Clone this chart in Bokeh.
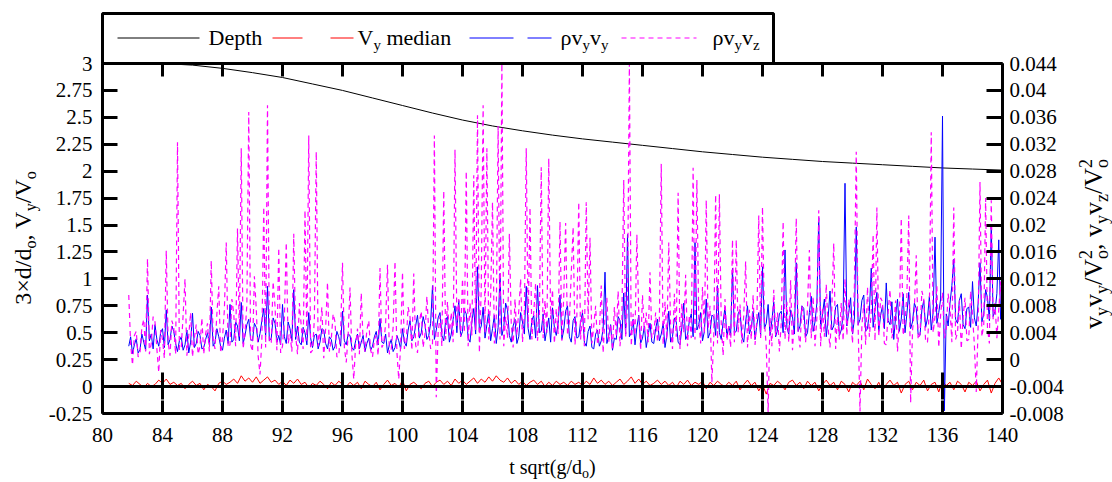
import numpy as np
from math import pi
from bokeh.plotting import figure
from bokeh.models import Range1d, LinearAxis, FixedTicker, CustomJSTickFormatter, Label
from bokeh.embed import file_html
from bokeh.resources import INLINE

# ---------------- data ----------------
x_ticks = [80, 84, 88, 92, 96, 100, 104, 108, 112, 116, 120, 124, 128, 132, 136, 140]
left_ticks = [-0.25, 0, 0.25, 0.5, 0.75, 1, 1.25, 1.5, 1.75, 2, 2.25, 2.5, 2.75, 3]
right_ticks = [-0.008, -0.004, 0, 0.004, 0.008, 0.012, 0.016, 0.02, 0.024,
               0.028, 0.032, 0.036, 0.04, 0.044]

t_start = 81.75
red_step = 0.25      # sampling of the V_y median series
rho_step = 0.125     # sampling of the two rho series

# depth (3 x d/d_o), left axis
depth_t = [82, 84, 86, 88, 90, 92, 94, 96, 98, 100, 102, 104, 106, 108, 110,
           112, 114, 116, 118, 120, 122, 124, 126, 128, 130, 132, 134, 136, 138, 140]
depth = [3.04, 3.01, 2.985, 2.955, 2.915, 2.87, 2.81, 2.75, 2.68, 2.61, 2.54, 2.475,
         2.42, 2.375, 2.335, 2.30, 2.27, 2.24, 2.21, 2.18, 2.155, 2.13, 2.11, 2.09,
         2.075, 2.06, 2.045, 2.03, 2.02, 2.01]

# V_y median (left axis), every 0.25 from t = 81.75
vy_median = [
    0.03, 0.01, 0.05, 0.02, -0.01, 0.03, 0.00, 0.02, 0.06, 0.03, 0.07, 0.02, 0.04, 0.01, 0.03, -0.02, 0.02, 0.05, 0.01, 0.03,
    -0.03, 0.02, 0.00, -0.04, 0.03, 0.05, 0.02, 0.04, 0.07, 0.03, 0.10, 0.05, 0.08, 0.04, 0.09, 0.03, 0.06, 0.09, 0.04, 0.06,
    0.02, 0.05, 0.01, 0.06, 0.03, 0.07, 0.02, 0.04, -0.01, 0.03, 0.01, 0.05, 0.02, -0.02, 0.04, 0.01, 0.05, 0.02, 0.00, 0.04,
    0.01, 0.04, -0.02, 0.05, 0.02, 0.00, 0.04, -0.03, 0.02, 0.06, 0.01, 0.03, -0.01, 0.06, -0.04, 0.02, 0.04, 0.01, -0.02, 0.03,
    0.05, 0.00, 0.04, 0.06, 0.02, 0.05, 0.01, 0.07, 0.03, 0.06, 0.02, 0.05, 0.08, 0.03, 0.07, 0.04, 0.09, 0.05, 0.10, 0.06,
    0.04, 0.08, 0.03, 0.06, 0.02, 0.05, 0.01, 0.04, 0.06, 0.02, 0.05, 0.00, 0.04, 0.01, 0.05, 0.02, 0.04, 0.01, 0.05, 0.02,
    0.04, 0.01, 0.05, 0.02, 0.08, 0.03, 0.06, 0.02, 0.05, 0.01, 0.04, 0.07, 0.02, 0.05, 0.09, 0.03, 0.07, 0.02, 0.05, 0.01,
    0.03, 0.06, 0.02, 0.05, 0.01, 0.04, -0.01, 0.05, 0.02, 0.06, 0.01, 0.04, 0.02, 0.05, -0.02, 0.04, 0.01, 0.05, 0.02, 0.00,
    0.04, 0.01, 0.05, -0.03, 0.02, 0.06, 0.01, 0.04, -0.04, 0.02, -0.07, 0.03, 0.01, 0.05, 0.02, -0.03, 0.04, 0.06, 0.01, 0.04,
    -0.02, 0.05, 0.01, 0.04, -0.04, 0.02, 0.06, 0.01, 0.04, -0.03, 0.05, 0.02, -0.05, 0.04, 0.01, 0.05, -0.03, 0.07, 0.02, -0.02,
    0.04, -0.04, 0.02, 0.06, 0.01, 0.04, -0.06, 0.02, 0.05, -0.03, 0.04, 0.01, 0.06, -0.04, 0.02, 0.04, -0.05, 0.05, 0.01, 0.04,
    -0.03, 0.05, 0.02, -0.05, 0.04, 0.01, 0.05, -0.04, 0.02, 0.06, -0.06, 0.03, 0.08, 0.02,
]

# rho v_y v_y / V_o^2 (right axis), in units of 1e-3, every 0.125 from t = 81.75
rho_vyvy_e3 = [
    2.0, 3.4, 0.9, 2.2, 3.1, 1.0, 1.5, 3.8, 2.6, 1.4, 9.6, 2.8, 3.8, 1.6, 5.2, 3.0, 2.0, 4.0, 4.6, 1.8,
    7.4, 2.2, 3.0, 5.0, 4.2, 2.4, 1.2, 2.8, 3.4, 1.4, 2.2, 4.4, 1.0, 2.6, 6.9, 1.8, 2.4, 4.2, 3.6, 1.6,
    1.8, 3.0, 4.0, 2.2, 7.8, 2.0, 2.6, 4.6, 3.4, 2.0, 1.4, 3.2, 4.4, 2.4, 8.2, 2.6, 3.0, 5.6, 5.0, 2.8,
    8.5, 2.4, 3.6, 5.2, 6.0, 3.0, 2.8, 5.4, 4.8, 2.6, 3.9, 5.8, 7.6, 3.4, 10.9, 2.8, 3.2, 6.2, 5.4, 2.6,
    3.6, 2.2, 8.2, 3.4, 2.4, 5.6, 4.6, 2.8, 10.4, 3.0, 5.0, 2.6, 2.2, 4.8, 4.0, 2.2, 7.0, 3.2, 1.8, 3.6,
    3.8, 1.6, 2.6, 4.6, 4.4, 2.4, 1.6, 3.4, 3.0, 1.4, 2.0, 4.2, 3.4, 2.0, 7.2, 2.8, 2.2, 3.8, 3.6, 1.8,
    1.4, 2.8, 3.8, 1.6, 2.6, 3.6, 1.2, 2.4, 3.2, 1.4, 2.0, 3.4, 4.2, 2.2, 6.1, 2.6, 2.4, 3.8, 1.0, 2.2,
    3.0, 1.2, 1.8, 3.6, 2.8, 1.6, 4.6, 2.6, 2.0, 4.4, 5.8, 2.8, 3.4, 5.0, 6.6, 3.2, 4.0, 6.4, 5.2, 3.0,
    3.6, 5.4, 11.0, 3.0, 4.4, 6.2, 7.0, 3.6, 2.8, 5.8, 6.4, 2.6, 3.8, 6.0, 8.0, 4.0, 8.8, 3.4, 4.2, 7.4,
    6.8, 3.2, 2.6, 5.6, 7.6, 3.8, 13.8, 4.2, 5.0, 7.8, 3.2, 5.2, 7.2, 2.8, 4.6, 6.6, 2.4, 4.8, 12.8, 3.6,
    4.8, 8.4, 7.4, 3.6, 2.6, 5.0, 6.0, 2.4, 3.4, 7.0, 5.6, 3.8, 10.9, 4.6, 3.0, 5.8, 6.6, 3.2, 11.0, 4.0,
    4.2, 6.8, 2.8, 4.6, 6.2, 2.6, 7.7, 4.8, 3.6, 5.4, 9.6, 3.0, 4.4, 7.2, 8.0, 3.4, 2.6, 5.8, 6.4, 3.2,
    3.4, 5.6, 7.0, 2.6, 2.0, 4.2, 5.0, 1.8, 1.6, 3.8, 4.4, 2.0, 2.8, 4.6, 13.0, 2.4, 3.6, 5.2, 1.4, 3.2,
    3.0, 6.4, 5.8, 3.0, 9.9, 3.8, 18.6, 3.4, 4.0, 6.0, 2.2, 4.8, 6.6, 2.4, 3.2, 5.0, 1.8, 3.6, 5.4, 2.6,
    2.4, 4.6, 6.0, 2.8, 3.8, 5.4, 1.8, 3.6, 7.2, 2.6, 3.4, 6.2, 5.6, 2.6, 2.2, 4.8, 8.4, 3.0, 3.6, 5.8,
    6.8, 3.4, 17.4, 4.4, 5.2, 7.0, 2.8, 4.2, 9.0, 3.2, 4.0, 6.6, 6.4, 3.6, 11.0, 4.0, 3.0, 5.6, 7.8, 3.4,
    5.0, 3.6, 13.6, 4.0, 4.2, 6.8, 7.4, 3.4, 2.6, 5.6, 8.0, 3.8, 4.8, 7.2, 3.0, 5.2, 7.0, 3.6, 13.8, 4.6,
    5.4, 8.2, 3.6, 5.8, 8.6, 3.4, 4.4, 6.8, 7.2, 4.0, 16.3, 4.8, 3.8, 7.4, 6.4, 3.8, 14.4, 4.2, 5.0, 8.0,
    7.6, 3.4, 4.0, 7.0, 9.4, 4.2, 5.6, 8.4, 21.1, 4.6, 6.8, 9.0, 3.4, 6.2, 10.2, 4.4, 5.0, 7.8, 8.2, 3.6,
    4.4, 6.6, 26.2, 5.0, 7.0, 9.2, 3.8, 6.0, 19.7, 5.2, 6.0, 8.8, 9.6, 4.2, 4.6, 7.2, 13.6, 4.8, 7.4, 10.0,
    4.2, 6.6, 8.0, 4.6, 11.4, 5.8, 5.2, 8.6, 3.0, 6.4, 9.0, 4.2, 6.0, 9.8, 4.0, 6.8, 10.0, 4.6, 5.6, 8.4,
    7.6, 3.8, 3.6, 7.4, 8.8, 4.8, 6.2, 9.4, 4.4, 7.0, 18.2, 5.4, 7.0, 9.0, 36.2, -7.6, 6.8, 5.0, 8.4, 11.0,
    14.9, 6.0, 5.4, 8.8, 9.8, 5.2, 4.6, 7.6, 7.8, 4.8, 11.6, 6.2, 5.0, 8.4, 14.4, 5.6, 6.8, 10.4, 9.2, 5.8,
    20.0, 6.4, 7.2, 9.8, 17.8, 6.0, 8.6,
]

# rho v_y v_z / V_o^2 (right axis), in units of 1e-3, every 0.125 from t = 81.75
rho_vyvz_e3 = [
    9.6, 2.4, -0.8, 3.6, 4.2, 0.4, 1.0, 4.8, 6.0, 1.2, 15.0, 0.8, 2.4, 6.4, 5.6, 1.6, -1.9, 4.4, 3.0, 0.2,
    16.2, 2.6, 0.6, 5.8, 4.8, 0.8, 32.3, 1.4, 1.8, 6.6, 12.0, 0.6, 3.6, 7.0, 0.4, 3.2, 5.2, 0.8, 2.0, 6.2,
    0.8, 3.8, 5.4, 1.2, 14.7, 3.0, 1.6, 6.8, 10.9, 1.0, 3.2, 7.4, 17.4, 1.8, 2.2, 9.0, 6.8, 2.0, 19.5, 3.4,
    31.4, 1.6, 4.0, 8.2, 36.8, 2.2, 1.2, 12.4, 7.6, 0.6, -2.2, 3.0, 22.7, 1.8, 37.8, 2.4, 2.6, 11.6, 8.0, 1.4,
    16.6, 1.0, 2.0, 6.2, 17.4, 2.4, 3.8, 1.2, 18.7, 3.6, 0.8, 8.4, 5.0, 1.6, 22.2, 2.8, 33.3, 1.0, 1.4, 6.0,
    30.9, 2.0, 4.4, 7.8, 0.2, 4.6, 11.5, 1.2, 3.0, 6.8, 5.6, 0.4, 0.6, 4.2, 14.4, 1.8, -0.4, 3.6, 10.7, 0.8,
    -2.9, 2.2, 4.6, 0.8, 9.9, 2.6, 1.2, 4.4, 5.8, 1.4, 0.4, 3.0, 3.6, 0.6, 13.6, 1.8, 2.4, 5.4, 14.1, 0.8,
    1.6, 4.8, 14.6, 1.2, -2.9, 2.0, 13.0, 1.6, 2.8, 7.8, 6.4, 1.4, 12.8, 2.2, 1.0, 5.6, 7.2, 1.8, 3.8, 9.4,
    4.2, 1.6, 2.4, 33.3, -5.6, 4.0, 6.4, 2.0, 25.1, 3.0, 8.6, 3.6, 7.0, 2.6, 31.2, 5.0, 9.0, 3.4, 12.0, 4.0,
    28.0, 2.0, 8.4, 3.6, 27.4, 4.4, 36.3, 1.0, 10.6, 37.8, 4.0, 31.4, 3.0, 9.2, 23.4, 2.4, 6.0, 34.7, 3.0, 50.0,
    2.0, 6.4, 3.2, 18.7, 5.4, 1.8, 9.0, 3.6, 7.2, 12.0, 2.6, 6.8, 31.4, 4.8, 22.6, 3.0, 7.0, 11.4, 2.8, 6.2,
    28.6, 3.2, 8.8, 4.0, 29.9, 6.0, 10.4, 2.4, 7.6, 3.8, 20.5, 2.8, 9.4, 20.3, 3.6, 5.6, 12.8, 19.7, 2.2, 6.6,
    23.4, 3.0, 7.4, 2.0, 23.4, 6.0, 18.1, 2.4, 5.0, 8.0, 2.2, 4.0, 11.0, 1.0, 6.4, 9.2, 2.6, 5.2, 1.4, 7.8,
    3.4, 10.2, 2.0, 6.0, 26.7, 3.4, 8.2, 50.0, 2.0, 6.8, 3.6, 18.6, 6.8, 1.4, 9.6, 4.2, 7.0, 2.6, 13.0, 3.2,
    3.8, 7.0, 2.6, 6.0, 29.1, 2.2, 8.6, 3.0, 17.4, 5.0, 1.6, 9.8, 3.4, 24.8, 1.6, 8.4, 4.0, 12.6, 2.0, 6.6,
    3.2, 28.5, 3.0, 26.7, 6.0, 2.4, 10.8, 3.8, 23.7, 4.6, 8.0, -3.4, 3.2, 24.5, 2.4, 24.6, 5.4, 0.6, 9.0, 2.8,
    5.0, 1.8, 17.8, 2.6, 17.8, 4.0, 8.2, 2.4, 6.6, 14.6, 1.8, 7.4, 3.0, 9.6, 2.2, 6.0, 21.4, 3.2, 22.7, 5.8,
    2.0, -7.8, 6.2, 2.0, 10.4, 3.6, 7.0, 1.2, 5.4, 20.5, 3.0, 8.6, 2.6, 11.8, 1.4, 6.4, 21.0, 4.4, 1.8, 8.0,
    6.0, 2.6, 7.8, 16.3, 3.2, 9.4, 2.0, 6.2, 22.2, 2.0, 7.8, 3.4, 11.2, 4.6, 1.8, 8.0, 17.3, 1.6, 6.4, 3.0,
    8.4, 2.8, 12.0, 3.6, 9.0, 6.8, 2.4, 10.6, 30.9, 5.0, -7.7, 5.0, 8.2, 2.2, 10.8, 3.4, 7.2, 18.6, 2.8, 22.6,
    3.4, 9.2, 8.6, 2.4, 2.2, 7.0, 10.4, 3.2, 4.8, 8.8, 1.2, 6.0, 21.0, 3.6, 5.6, 9.6, 21.4, -6.4, 4.2, 7.6,
    15.5, 3.0, 3.8, 10.2, 9.0, 2.6, 2.6, 7.4, 33.8, 4.0, 6.4, 11.0, 1.8, 6.6, 10.0, 3.2, 4.4, 9.8, 7.6, 2.6,
    22.6, 3.0, 4.0, 8.8, 1.6, 6.4, 9.2, 2.8, 3.0, 10.2, 6.6, 2.2, -4.8, 5.0, 26.4, 3.4, 5.2, 24.0, 4.6, 2.4,
    23.7, 6.0, 8.4, 3.2, 7.4, 11.6, 3.6,
]

legend_labels = ["Depth", "V_y median", "ρv_yv_y", "ρv_yv_z"]

# ---------------- layout constants (page pixels) ----------------
W, H = 1112, 482
FL, FR, FT, FB = 102, 1002, 63, 413          # plot box
FONT = "Liberation Serif"
BASE_CORR = 0.36                              # em; moves text anchors to the true baseline

XMIN, XMAX = 80, 140
YMIN, YMAX = -0.25, 3
RMIN, RMAX = -0.008, 0.044

pxu = (FR - FL) / (XMAX - XMIN)
pyu = (FB - FT) / (YMAX - YMIN)
pru = (FB - FT) / (RMAX - RMIN)
x_range = Range1d(XMIN - FL / pxu, XMAX + (W - FR) / pxu)
y_range = Range1d(YMIN - (H - FB) / pyu, YMAX + FT / pyu)
r_range = Range1d(RMIN - (H - FB) / pru, RMAX + FT / pru)


def X(px):
    return x_range.start + px / pxu


def Y(py):
    return y_range.end - py / pyu


t_red = t_start + red_step * np.arange(len(vy_median))
t_rho = t_start + rho_step * np.arange(len(rho_vyvy_e3))
# clip to the plot box like the original (values beyond the top edge are not shown)
rho_vyvy = np.clip(np.array(rho_vyvy_e3) * 1e-3, RMIN, RMAX)
rho_vyvz = np.clip(np.array(rho_vyvz_e3) * 1e-3, RMIN, RMAX)
depth_c = np.clip(np.array(depth), YMIN, YMAX)

# Times / Liberation Serif advance widths (per 1000 em)
ADV = {c: 500 for c in "0123456789"}
ADV.update({'.': 250, ',': 250, ' ': 250, '-': 333, '×': 564, '/': 278, '(': 333, ')': 333,
            'a': 444, 'd': 500, 'e': 444, 'g': 500, 'h': 500, 'i': 278, 'm': 778, 'n': 500,
            'o': 500, 'p': 500, 'q': 500, 'r': 333, 's': 389, 't': 278, 'v': 500, 'y': 500,
            'z': 444, 'D': 722, 'V': 722, 'ρ': 500})


def tw(s, size):
    return sum(ADV.get(c, 500) for c in s) * size / 1000.0


def rich(pieces, size, subsize, subshift, supshift):
    out, off, last_off = [], 0.0, 0.0
    for s, kind in pieces:
        fs = size if kind == 'n' else subsize
        if kind == 'supstack':
            out.append((last_off, s, fs, supshift))
            continue
        lead = len(s) - len(s.lstrip(' '))
        if lead:
            off += tw(' ' * lead, fs)
            s = s.lstrip(' ')
        out.append((off, s, fs, 0.0 if kind == 'n' else subshift))
        last_off = off
        off += tw(s, fs)
    return out, off


# ---------------- figure ----------------
p = figure(width=W, height=H, x_range=x_range, y_range=y_range,
           x_axis_type=None, y_axis_type=None,
           output_backend="svg", toolbar_location=None,
           min_border=0, min_border_left=0, min_border_right=0,
           min_border_top=0, min_border_bottom=0)
p.extra_y_ranges = {"r": r_range}
p.outline_line_color = None
p.background_fill_color = "white"
p.border_fill_color = "white"

fmt = CustomJSTickFormatter(code="return (Math.round(tick*1000)/1000).toString();")
blank = CustomJSTickFormatter(code="return '';")


def add_axis(side, loc, bounds, ticks, tick_in, tick_out=0, standoff=0, labels=True, rng=None):
    kw = dict(ticker=FixedTicker(ticks=ticks), formatter=(fmt if labels else blank),
              fixed_location=loc, bounds=bounds)
    if rng is not None:
        kw["y_range_name"] = rng
    ax = LinearAxis(**kw)
    ax.major_tick_in = tick_in
    ax.major_tick_out = tick_out
    ax.minor_tick_in = 0
    ax.minor_tick_out = 0
    ax.axis_line_width = 3
    ax.axis_line_color = "black"
    ax.major_tick_line_width = 3
    ax.major_tick_line_color = "black"
    ax.major_label_standoff = standoff
    ax.major_label_text_font = FONT
    ax.major_label_text_color = "black"
    ax.major_label_text_font_size = "21px"
    p.add_layout(ax, side)
    return ax


# series
p.line(depth_t, depth_c, line_color="black", line_width=1)
p.line(t_red, vy_median, line_color="#ff0000", line_width=1)
p.line(t_rho, rho_vyvy, y_range_name="r", line_color="#0000ff", line_width=1)
p.line(t_rho, rho_vyvz, y_range_name="r", line_color="#ff00ff", line_width=1.2, line_dash="5 4")

# axes / plot box
add_axis("below", YMIN, (XMIN, XMAX), x_ticks, 13, standoff=14)
add_axis("below", 0, (XMIN, XMAX), x_ticks, 14, tick_out=13, labels=False)   # zero axis
add_axis("above", YMAX, (XMIN, XMAX), x_ticks, 13, labels=False)
add_axis("left", XMIN, (YMIN, YMAX), left_ticks, 15, standoff=10)
add_axis("right", XMAX, (RMIN, RMAX), right_ticks, 16, standoff=7, rng="r")


def add_rich_label(pieces, x0, y0, rotated):
    for off, s, fs, shift in pieces:
        down = shift - BASE_CORR * fs
        if rotated:
            px, py = x0 + down, y0 - off
        else:
            px, py = x0 + off, y0 + down
        p.add_layout(Label(x=px, y=H - py, x_units="screen", y_units="screen",
                           text=s, text_font=FONT, text_font_size=f"{fs:.0f}px",
                           angle=(pi / 2 if rotated else 0), text_baseline="alphabetic",
                           text_align="left", text_color="black"))


# left axis label: 3×d/d_o, V_y/V_o
lp, ltot = rich([("3×d/d", 'n'), ("o", 'sub'), (", V", 'n'), ("y", 'sub'), ("/V", 'n'), ("o", 'sub')],
                24, 16, 5, -10)
add_rich_label(lp, 31, 237.5 + ltot / 2, True)

# right axis label: v_yv_y/V_o^2, v_yv_z/V_o^2
rp, rtot = rich([("v", 'n'), ("y", 'sub'), ("v", 'n'), ("y", 'sub'), ("/V", 'n'), ("o", 'sub'), ("2", 'supstack'),
                 (", v", 'n'), ("y", 'sub'), ("v", 'n'), ("z", 'sub'), ("/V", 'n'), ("o", 'sub'), ("2", 'supstack')],
                26, 18, 6, -11)
add_rich_label(rp, 1102, 243.5 + rtot / 2, True)

# x axis label: t sqrt(g/d_o)
xp, xtot = rich([("t sqrt(g/d", 'n'), ("o", 'sub'), (")", 'n')], 20, 14, 4, -8)
add_rich_label(xp, (FL + FR) / 2 - xtot / 2, 474, False)

# ---------------- key (above the plot box) ----------------
KT, KB, KR = 13, FT, 773
p.quad(left=[X(FL)], right=[X(KR)], top=[Y(KT)], bottom=[Y(KB)], fill_color=None,
       line_color="black", line_width=3)
ky = Y(37.5)
p.line([X(117), X(199)], [ky, ky], line_color="black", line_width=1)
p.multi_line([[X(272), X(302)], [X(330), X(353)]], [[ky, ky], [ky, ky]], line_color="#ff0000", line_width=1)
p.multi_line([[X(469), X(513)], [X(527), X(551)]], [[ky, ky], [ky, ky]], line_color="#0000ff", line_width=1)
p.line([X(621), X(696)], [ky, ky], line_color="#ff00ff", line_width=1.2, line_dash="5 4")


def key_text(pieces, x0, base=45):
    items, _ = rich(pieces, 22, 15, 5, -9)
    add_rich_label(items, x0, base, False)


key_text([(legend_labels[0], 'n')], 208)
key_text([("V", 'n'), ("y", 'sub'), (" median", 'n')], 357)
key_text([("ρv", 'n'), ("y", 'sub'), ("v", 'n'), ("y", 'sub')], 560)
key_text([("ρv", 'n'), ("y", 'sub'), ("v", 'n'), ("z", 'sub')], 712)

open("out.html", "w").write(file_html(p, INLINE))
